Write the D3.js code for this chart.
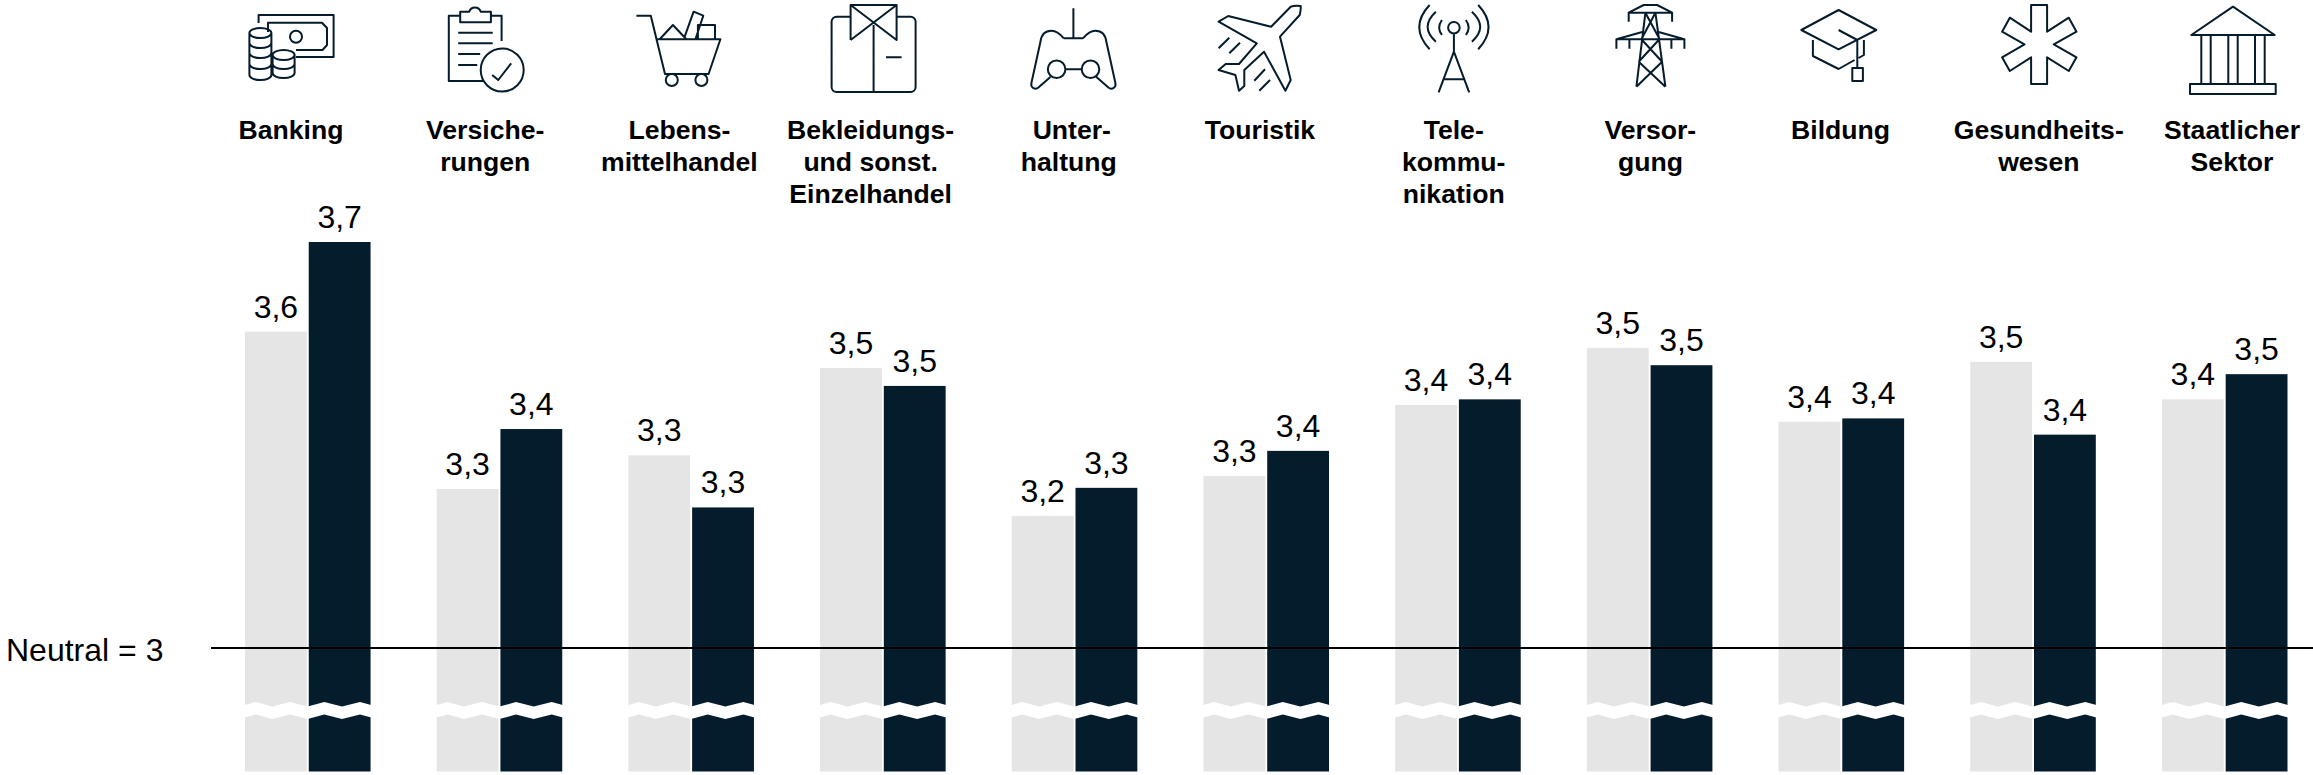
<!DOCTYPE html>
<meta charset="utf-8">
<!-- Load d3.js -->
<script src="https://cdn.jsdelivr.net/npm/d3@7"></script>
<style>
body { margin: 0; background: #fff; }
svg { display: block; font-family: "Liberation Sans", Arial, sans-serif; }
.icon path { fill: none; stroke: #051c2c; stroke-width: 2; stroke-linejoin: round; }
.cat-label { font-size: 26.6px; font-weight: bold; fill: #000; text-anchor: middle; }
.val-label { font-size: 32px; fill: #000; text-anchor: middle; }
</style>
<body>
<div id="container"></div>
<script>
//-----------------------------DATA-----------------------------//
const categories = ["Banking", "Versicherungen", "Lebensmittelhandel", "Bekleidung", "Unterhaltung", "Touristik",
    "Telekommunikation", "Versorgung", "Bildung", "Gesundheitswesen", "Staatlicher Sektor"];
const categoryLines = [["Banking"], ["Versiche-", "rungen"], ["Lebens-", "mittelhandel"],
    ["Bekleidungs-", "und sonst.", "Einzelhandel"], ["Unter-", "haltung"], ["Touristik"],
    ["Tele-", "kommu-", "nikation"], ["Versor-", "gung"], ["Bildung"], ["Gesundheits-", "wesen"], ["Staatlicher", "Sektor"]];
const seriesLight = [3.565, 3.284, 3.344, 3.500, 3.236, 3.307, 3.434, 3.536, 3.404, 3.511, 3.444];
const seriesDark = [3.725, 3.391, 3.251, 3.468, 3.286, 3.352, 3.444, 3.505, 3.410, 3.381, 3.489];
const neutralValue = 3;
const neutralLabel = "Neutral = 3";

//-----------------------------SVG------------------------------//
const width = 2313;
const height = 775;
const baseY = 771.5;
const colorLight = "#e5e5e5";
const colorDark = "#051c2c";

const svg = d3.select("#container").append("svg")
    .attr("width", width)
    .attr("height", height);

//----------------------------SCALES----------------------------//
const x0 = d3.scaleBand().domain(categories).range([245, 2287.5]).paddingInner(0.345).paddingOuter(0);
const x1 = d3.scaleBand().domain(["light", "dark"]).range([0, x0.bandwidth()]).paddingInner(0.03);
const y = d3.scaleLinear().domain([3, 4]).range([648, 88]);
const labelX = d3.scalePoint().domain(categories).range([291, 2233]);
const labelNudge = [0, 0, 0, -3, 1, -2, -2.5, 0, -4, 0, -1];
const fmt = d3.formatLocale({decimal: ",", thousands: ".", grouping: [3], currency: ["", "€"]}).format(".1f");

//-----------------------------BARS-----------------------------//
const groups = svg.selectAll("g.group")
    .data(categories)
    .enter().append("g")
    .attr("class", "group")
    .attr("transform", d => "translate(" + x0(d) + ",0)");

const rows = categories.map((c, i) => [
    {key: "light", value: seriesLight[i], color: colorLight},
    {key: "dark", value: seriesDark[i], color: colorDark}
]);

groups.selectAll("rect")
    .data((d, i) => rows[i])
    .enter().append("rect")
    .attr("x", d => x1(d.key))
    .attr("y", d => y(d.value))
    .attr("width", x1.bandwidth())
    .attr("height", d => baseY - y(d.value))
    .attr("fill", d => d.color);

groups.selectAll("text")
    .data((d, i) => rows[i])
    .enter().append("text")
    .attr("class", "val-label")
    .attr("x", d => x1(d.key) + x1.bandwidth() / 2)
    .attr("y", d => y(d.value) - 14)
    .text(d => fmt(d.value));

//-----------------------------AXIS BREAK------------------------//
const breakPts = [[-2, 3.5], [10.7, 0], [27.3, 4.6], [45, 0], [62.7, 4.6], [79.3, 0], [97, 4.6], [115, 0], [128, 3.5]];
const breakArea = d3.area()
    .x(d => d[0])
    .y0(d => 702 + d[1])
    .y1(d => 714.5 + d[1]);

groups.append("path")
    .attr("d", breakArea(breakPts))
    .attr("fill", "#fff");

//----------------------------NEUTRAL---------------------------//
svg.append("line")
    .attr("x1", 211).attr("x2", width)
    .attr("y1", y(neutralValue)).attr("y2", y(neutralValue))
    .attr("stroke", "#000").attr("stroke-width", 2);

svg.append("text")
    .attr("x", 6).attr("y", 660.5)
    .style("font-size", "32px")
    .text(neutralLabel);

//----------------------------LABELS----------------------------//
const catText = svg.selectAll("text.cat-label")
    .data(categories)
    .enter().append("text")
    .attr("class", "cat-label")
    .attr("y", 139);

catText.selectAll("tspan")
    .data((d, i) => categoryLines[i].map(t => ({t: t, x: labelX(d) + labelNudge[i]})))
    .enter().append("tspan")
    .attr("x", d => d.t === "Unter-" ? d.x + 3 : d.x)
    .attr("dy", (d, i) => i ? 32 : 0)
    .text(d => d.t);

//-----------------------------ICONS----------------------------//
function coin(cx, cy) {
    return "M" + (cx - 11) + "," + cy + "a11,5 0 1,0 22,0a11,5 0 1,0 -22,0";
}
function coinEdge(cx, cy) {
    return "M" + (cx - 11) + "," + cy + "a11,5 0 0,0 22,0";
}
function circle(cx, cy, r) {
    return "M" + (cx - r) + "," + cy + "a" + r + "," + r + " 0 1,0 " + (2 * r) + ",0a" + r + "," + r + " 0 1,0 " + (-2 * r) + ",0";
}

const iconPaths = [
    // banking
    {dx: 0, d: "M-32.4,23V15H42.6V57H5M-23,32V22.7H31L36,28V45L31.5,50H5" + circle(5, 36.7, 6)
        + coin(-30.6, 33) + "M-41.6,33V75a11,5 0 0,0 22,0V33" + coinEdge(-30.6, 43) + coinEdge(-30.6, 53) + coinEdge(-30.6, 64)
        + coin(-7.4, 55) + "M-18.4,55V73a11,5 0 0,0 22,0V55" + coinEdge(-7.4, 64)},
    // versicherungen
    {dx: 0, d: "M-25,15.7H-36.4V81H-1M5.7,15.7H16.4V41M-25,11.7H-16a6,6 0 0,1 11.5,0H5.7V22.3H-25Z"
        + "M-27,32.7H7.5M-27,43.3H7.5M-27,54H-5M-27,65H-8" + circle(17, 70, 21.5) + "M7,75L13,80L26,63.3"},
    // lebensmittel
    {dx: 0, d: "M-43,15.7H-28.6L-14.4,74H29.2L41,39.3H-22.6" + circle(-7.6, 80, 6) + circle(22, 80, 6)
        + "M-19.7,39.3L-6.5,25L7,39.3M5.3,36.7L14.2,11.7L23.9,15.7L16,39.3M18.5,39.3V25H35.6V39.3"},
    // bekleidung
    {dx: 0, d: "M-23,16.7H-37a5,5 0 0,0 -5,5V87a5,5 0 0,0 5,5H37a5,5 0 0,0 5,-5V21.7a5,5 0 0,0 -5,-5H23"
        + "M-23,40V5H23V40L-23,5M23,5L-23,40M0,25V92M12.4,57.3H28"},
    // unterhaltung
    {dx: 5.6, d: "M0,8.3V38.3M9.6,38.3C14,33 18,30.7 22,30.7C28,30.7 32,34 33,42L42,83C43,88 38,90 35,87.5L23,77"
        + "M-9.6,38.3C-14,33 -18,30.7 -22,30.7C-28,30.7 -32,34 -33,42L-42,83C-43,88 -38,90 -35,87.5L-23,77M-9.6,38.3H9.6"
        + circle(-16.8, 69.3, 8.8) + circle(17.1, 69.3, 8.8) + "M-8,69.3H8.3"},
    // touristik
    {dx: 0, d: "M38.7,6Q33,5 28.7,6.7L9.1,26.7L-33.8,16L-43.4,21.7L-5.2,43.3L-23,64H-36.3L-43.4,70L-26.6,75L-23,90.7L-17.7,86V70L2,51.7L23.4,90.7L28.7,80L18,36.7L37.7,15Q39,10 38.7,6Z"
        + "M-43.4,48.3L-32.7,37.7M-32.7,53.3L-22,42.7M-7.7,80.7L3,69.3M-2.7,90.7L8,80"},
    // telekommunikation
    {dx: -2.3, d: circle(0, 27.7, 5.8) + "M0,33.3V51.7M0,51.7L-15.3,92.3M0,51.7L15.3,92.3M-11,79.3H11"
        + "M-12,20Q-17.4,27.7 -12,35M12,20Q17.4,27.7 12,35M-18,11.7Q-34.6,27 -18,41.7M18,11.7Q34.6,27 18,41.7"
        + "M-24.3,5Q-45,27 -24.3,49.3M24.3,5Q45,27 24.3,49.3"},
    // versorgung
    {dx: 0, d: "M-21.7,21.7V12.7L-6.7,5H6.7L21.7,12.7V21.7M-21.7,12.7H21.7M-34,48.7V39.3H34V48.7M-34,39.3L-7.3,31.7M34,39.3L7.3,31.7"
        + "M-21,39.3V48.7M21,39.3V48.7M-5,12.7L-14,86.7M5,12.7L15,86.7M-5,12.7L9.3,39.3M5,12.7L-9,39.3M-8.3,40L11.7,61.7M8.3,40L-11.7,61.7"
        + "M-11.7,61.7L15,86.7M11.7,61.7L-14,86.7"},
    // bildung
    {dx: -6, d: "M0,10L37.7,30L0,49.3L-37.3,30ZM-25.7,40V56L0,69L16,60M25.3,40V55L20,58M0,30L18.7,40V68M13.7,68H24.3V81H13.7Z"},
    // gesundheit
    {dx: 0, d: "M-7.7,5H8.3V31.7L30,17.7L37.7,31.7L15,44.3L37.7,57.3L30,71L8.3,57.3V84H-7.7V57.3L-29,71L-36.7,57.3L-14.3,44.3L-36.7,31.7L-29,17.7L-7.7,31.7Z"},
    // staat
    {dx: 0, d: "M-41.7,35L0,6.7L41.7,35ZM-31.7,35V84M-22.3,35V84M-4.7,35V84M4.7,35V84M22,35V84M31.7,35V84M-43,84H42.7V94H-43Z"}
];

svg.append("g").attr("class", "icon")
    .selectAll("path")
    .data(categories)
    .enter().append("path")
    .attr("transform", (d, i) => "translate(" + (labelX(d) + iconPaths[i].dx) + ",0)")
    .attr("d", (d, i) => iconPaths[i].d);
</script>
</body>
